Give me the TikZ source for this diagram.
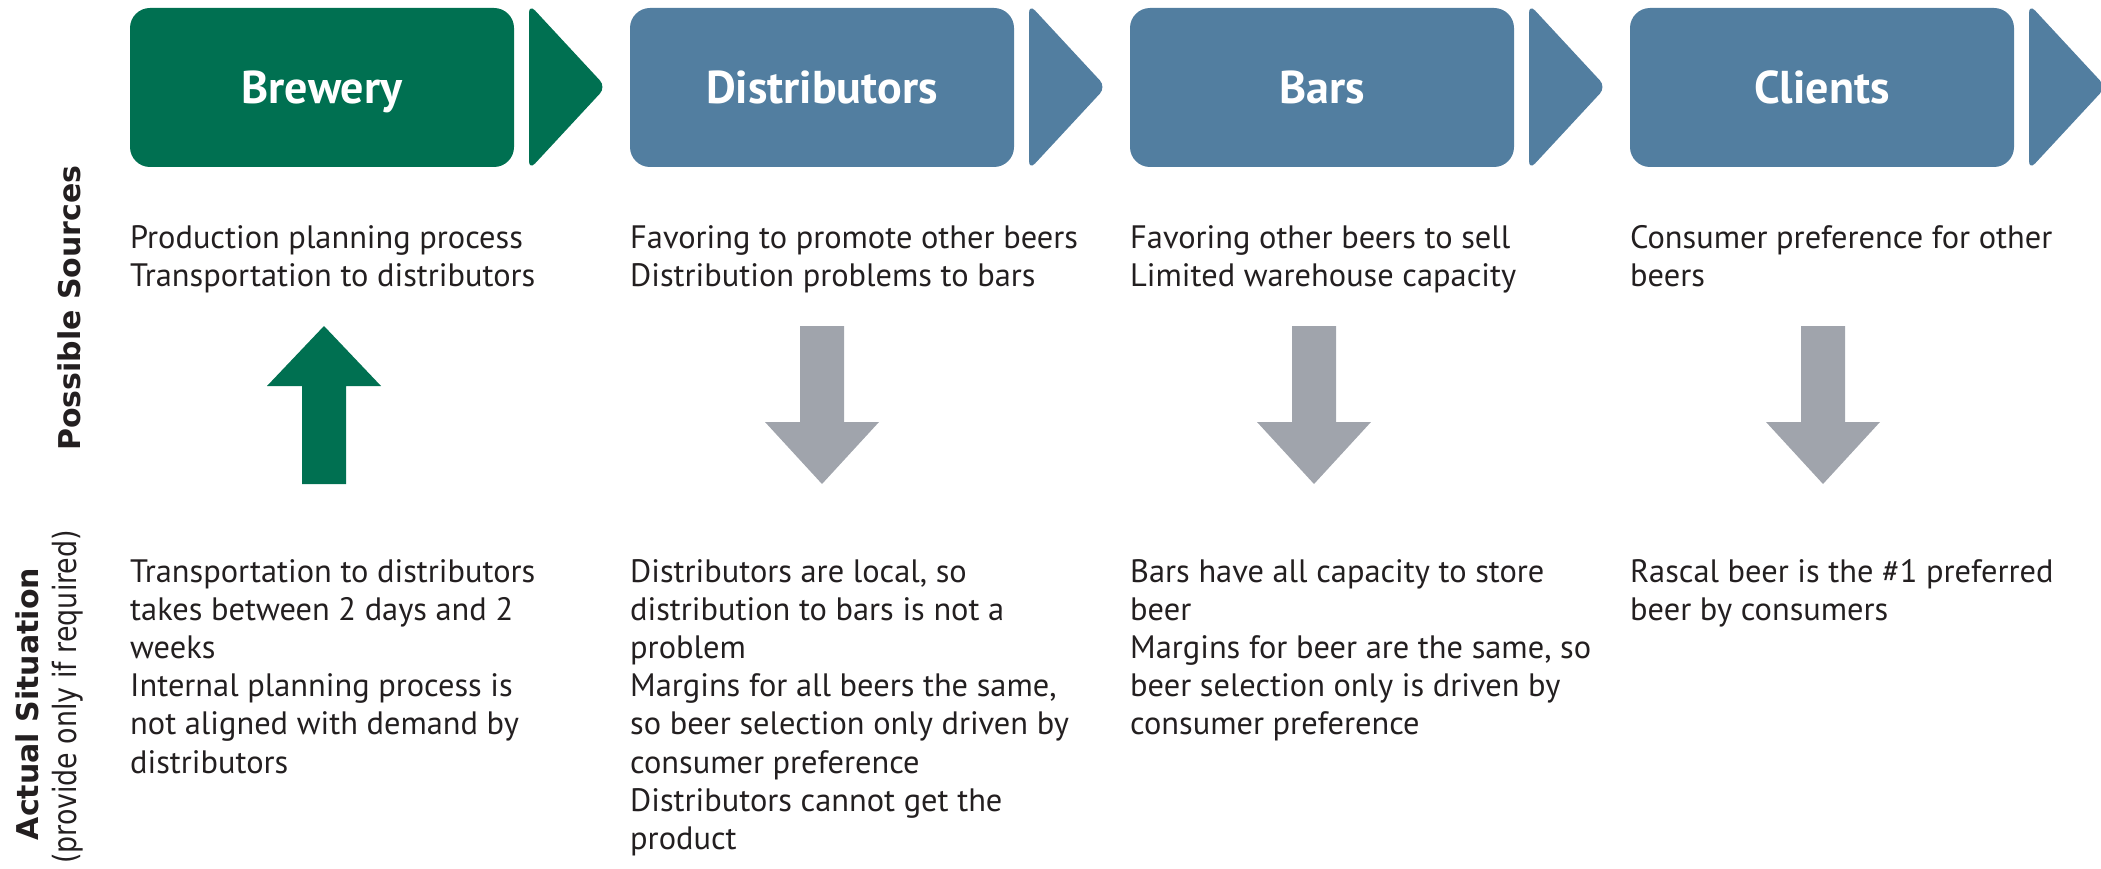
\documentclass[tikz,border=0pt]{standalone}
\usepackage{fontspec}
\setmainfont{PT Sans}
\newfontfamily\labfont{DejaVu Sans}
\newfontfamily\labcond[FakeStretch=0.84]{DejaVu Sans}
\definecolor{brewgreen}{RGB}{0,112,81}
\definecolor{stageblue}{RGB}{82,126,160}
\definecolor{arrowgray}{RGB}{160,164,172}
\definecolor{txt}{RGB}{35,31,32}
\newcommand\colbody[1]{\parbox[t]{560pt}{\raggedright\fontsize{32.4}{38.2}\selectfont #1}}
\begin{document}
\begin{tikzpicture}[x=1pt,y=-1pt,
  stage/.style={rectangle, rounded corners=20pt, minimum width=384pt, minimum height=159pt,
    inner sep=0pt, text=white, font=\bfseries\fontsize{46}{46}\selectfont,
    text height=32pt, text depth=-1pt},
  chev/.style={rounded corners=9pt},
  body/.style={anchor=base west, inner sep=0pt, text=txt},
  side/.style={rotate=90, anchor=base, inner sep=0pt, text=txt}]
\useasboundingbox (0,0) rectangle (2101,869);

% stage boxes
\node[stage, fill=brewgreen] (brew) at (322,87.5) {Brewery};
\node[stage, fill=stageblue] (dist) at (822,87.5) {Distributors};
\node[stage, fill=stageblue] (bars) at (1322,87.5) {Bars};
\node[stage, fill=stageblue] (clie) at (1822,87.5) {Clients};

% chevrons
\fill[brewgreen, chev] (529,170) -- (529,4) -- (606,87) -- cycle;
\foreach \L in {1029,1529,2029}{
  \fill[stageblue, chev] (\L,170) -- (\L,4) -- (\L+77,87) -- cycle;
}

% side labels
\node[side, font=\labfont\bfseries\fontsize{30}{30}\selectfont] (ps) at (80,308) {Possible Sources};
\node[side, font=\labfont\bfseries\fontsize{30}{30}\selectfont] (as) at (38,704) {Actual Situation};
\node[side, font=\labcond\fontsize{32}{32}\selectfont] (pr) at (76,697) {(provide only if required)};

% possible sources texts
\node[body] (t1) at (130,248) {\colbody{Production planning process\\Transportation to distributors}};
\node[body] (t2) at (630,248) {\colbody{Favoring to promote other beers\\Distribution problems to bars}};
\node[body] (t3) at (1130,248) {\colbody{Favoring other beers to sell\\Limited warehouse capacity}};
\node[body] (t4) at (1630,248) {\colbody{Consumer preference for other\\beers}};

% actual situation texts
\node[body] (b1) at (130,582) {\colbody{Transportation to distributors\\takes between 2 days and 2\\weeks\\Internal planning process is\\not aligned with demand by\\distributors}};
\node[body] (b2) at (630,582) {\colbody{Distributors are local, so\\distribution to bars is not a\\problem\\Margins for all beers the same,\\so beer selection only driven by\\consumer preference\\Distributors cannot get the\\product}};
\node[body] (b3) at (1130,582) {\colbody{Bars have all capacity to store\\beer\\Margins for beer are the same, so\\beer selection only is driven by\\consumer preference}};
\node[body] (b4) at (1630,582) {\colbody{Rascal beer is the \#1 preferred\\beer by consumers}};

% up arrow (green)
\fill[brewgreen] (302,484) -- (302,386) -- (267,386) -- (324,326) -- (381,386) -- (346,386) -- (346,484) -- cycle;
% down arrows (gray)
\foreach \c in {822,1314,1823}{
  \fill[arrowgray] (\c-22,326) -- (\c-22,422) -- (\c-57,422) -- (\c,484) -- (\c+57,422) -- (\c+22,422) -- (\c+22,326) -- cycle;
}
\end{tikzpicture}
\end{document}
